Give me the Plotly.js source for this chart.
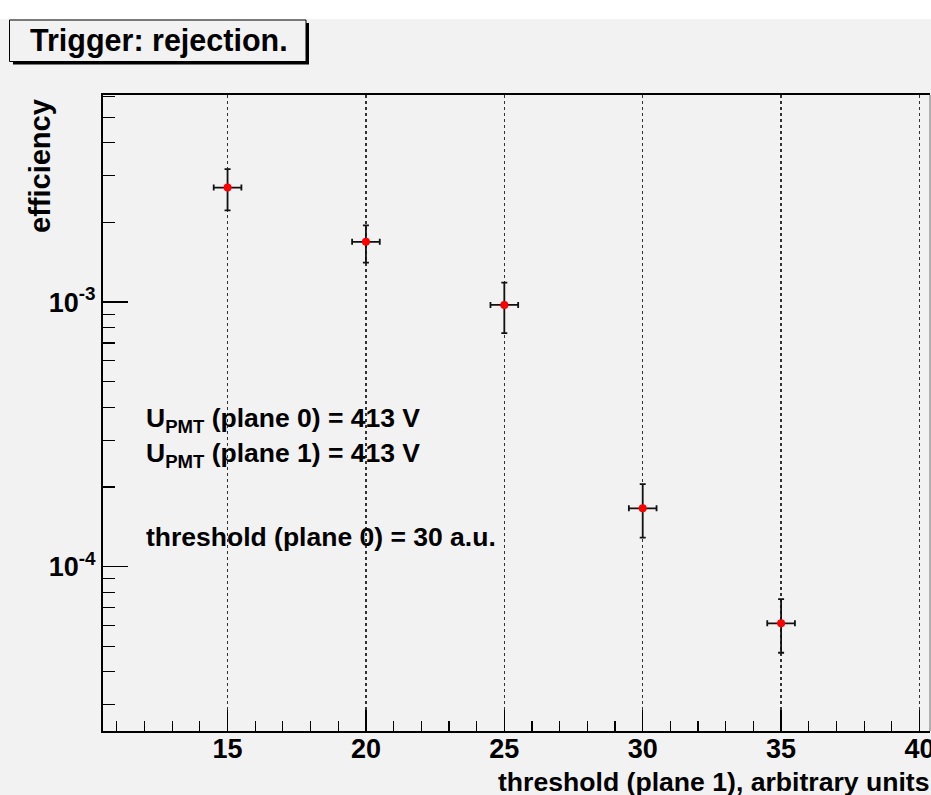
<!DOCTYPE html>
<html>
<head>
<meta charset="utf-8">
<script src="https://cdn.plot.ly/plotly-3.0.1.min.js"></script>
<style>html,body{margin:0;padding:0;background:#fff;}#chart{width:931px;height:795px;}</style>
</head>
<body>
<div id="chart"></div>
<script>
// Data
const thresholds = [15, 20, 25, 30, 35];
const efficiency = [2.71e-3, 1.69e-3, 9.75e-4, 1.66e-4, 6.1e-5];
const errPlus  = [4.7e-4, 2.6e-4, 2.1e-4, 3.9e-5, 1.43e-5];
const errMinus = [4.9e-4, 2.8e-4, 2.12e-4, 3.75e-5, 1.38e-5];
const xErr = [0.5, 0.5, 0.5, 0.5, 0.5];
const xTickVals = [15, 20, 25, 30, 35, 40];
const xTickText = ['15', '20', '25', '30', '35', '40'];
const yTickVals = [1e-3, 1e-4];
const yTickText = ['10<sup>-3</sup>', '10<sup>-4</sup>'];

const FONT = 'Liberation Sans, Arial, sans-serif';
const BG = '#f2f2f2';

const trace = {
  type: 'scatter',
  mode: 'markers',
  x: thresholds,
  y: efficiency,
  marker: {color: '#ff0000', size: 8, line: {width: 0}},
  error_y: {type: 'data', symmetric: false, array: errPlus, arrayminus: errMinus,
            color: '#111', thickness: 1.8, width: 3},
  error_x: {type: 'data', array: xErr, color: '#111', thickness: 1.8, width: 3},
  showlegend: false,
  hoverinfo: 'x+y'
};

// pixel helpers for paper coordinates (plot area: x 103..930, y 95..731)
const L = 103, R = 1, T = 95, B = 64, W = 931, H = 795;
const pw = W - L - R, ph = H - T - B;
const px = x => (x - L) / pw;
const py = y => (H - B - y) / ph;

const layout = {
  width: W, height: H,
  margin: {l: L, r: R, t: T, b: B, pad: 0},
  paper_bgcolor: BG,
  plot_bgcolor: BG,
  font: {family: FONT, color: '#000'},
  xaxis: {
    range: [10.5, 40.38],
    tickvals: xTickVals, ticktext: xTickText,
    ticks: 'inside', ticklen: 21, tickwidth: 1.5, tickcolor: '#000',
    tickfont: {family: FONT, size: 27, color: '#000', weight: 'bold'},
    ticklabelstandoff: -7,
    ticklabeloverflow: 'allow',
    showline: true, linecolor: '#000', linewidth: 2, mirror: true,
    showgrid: true, gridcolor: '#333', griddash: 'dot', gridwidth: 1.2,
    minor: {dtick: 1, tick0: 0, ticks: 'inside', ticklen: 10, tickwidth: 1.2, tickcolor: '#000', showgrid: false},
    zeroline: false, fixedrange: true
  },
  yaxis: {
    type: 'log',
    range: [-4.622, -2.217],
    tickvals: yTickVals, ticktext: yTickText,
    ticks: 'inside', ticklen: 25, tickwidth: 1.5, tickcolor: '#000',
    tickfont: {family: FONT, size: 27, color: '#000', weight: 'bold'},
    showline: true, linecolor: '#000', linewidth: 2, mirror: false,
    showgrid: false,
    minor: {dtick: 'D1', ticks: 'inside', ticklen: 12, tickwidth: 1.2, tickcolor: '#000', showgrid: false},
    zeroline: false, fixedrange: true
  },
  shapes: [
    // white strip at top of canvas
    {type: 'rect', xref: 'paper', yref: 'paper', x0: px(-5), x1: px(940), y0: py(19), y1: py(-5),
     fillcolor: '#ffffff', line: {width: 0}, layer: 'below'},
    // right frame edge (grey)
    {type: 'line', xref: 'paper', yref: 'paper', x0: 1, x1: 1, y0: 0, y1: 1,
     line: {color: '#999', width: 1.5}},
    // title box shadow
    {type: 'rect', xref: 'paper', yref: 'paper', x0: px(13), x1: px(309), y0: py(64.5), y1: py(23),
     fillcolor: '#000', line: {width: 0}},
    // title box
    {type: 'rect', xref: 'paper', yref: 'paper', x0: px(9.5), x1: px(306), y0: py(61.5), y1: py(20),
     fillcolor: BG, line: {color: '#000', width: 1}}
  ],
  annotations: [
    {text: '<b>Trigger: rejection.</b>', xref: 'paper', yref: 'paper', x: px(159), y: py(41),
     xanchor: 'center', yanchor: 'middle', showarrow: false, font: {family: FONT, size: 30.5, color: '#000'}},
    {text: '<b>efficiency</b>', xref: 'paper', yref: 'paper', x: px(40), y: py(97),
     xanchor: 'center', yanchor: 'top', textangle: -90, showarrow: false, font: {family: FONT, size: 29, color: '#000'}},
    {text: '<b>threshold (plane 1), arbitrary units</b>', xref: 'paper', yref: 'paper', x: px(932), y: py(782),
     xanchor: 'right', yanchor: 'middle', showarrow: false, font: {family: FONT, size: 26.6, color: '#000'}},
    {text: '<b>U<sub>PMT</sub> (plane 0) = 413 V</b>', xref: 'paper', yref: 'paper', x: px(144), y: py(420),
     xanchor: 'left', yanchor: 'middle', showarrow: false, font: {family: FONT, size: 26.5, color: '#000'}},
    {text: '<b>U<sub>PMT</sub> (plane 1) = 413 V</b>', xref: 'paper', yref: 'paper', x: px(144), y: py(455),
     xanchor: 'left', yanchor: 'middle', showarrow: false, font: {family: FONT, size: 26.5, color: '#000'}},
    {text: '<b>threshold (plane 0) = 30 a.u.</b>', xref: 'paper', yref: 'paper', x: px(144), y: py(537),
     xanchor: 'left', yanchor: 'middle', showarrow: false, font: {family: FONT, size: 26.5, color: '#000'}}
  ]
};

Plotly.newPlot('chart', [trace], layout, {displayModeBar: false, staticPlot: true});
</script>
</body>
</html>
